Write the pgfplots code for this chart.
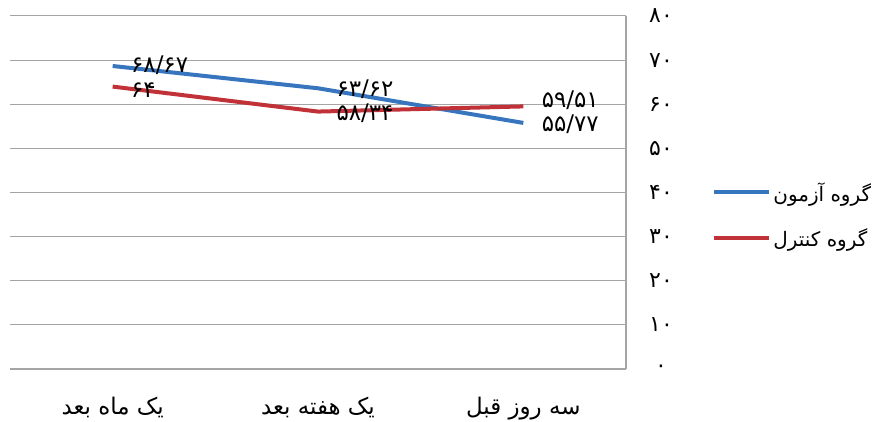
\documentclass[border=0pt]{standalone}
\usepackage{fontspec}
\usepackage{pgfplots}
\pgfplotsset{compat=1.18}
\setmainfont{DejaVu Sans}
\newfontfamily\fa[Script=Arabic]{DejaVu Sans}
\TeXXeTstate=1
\definecolor{sblue}{RGB}{55,118,190}
\definecolor{sred}{RGB}{192,50,55}
\definecolor{gridc}{RGB}{165,165,165}
\begin{document}
\begin{tikzpicture}
\path[use as bounding box] (0,0) rectangle (874bp,422bp);
\begin{axis}[
  at={(10bp,53bp)}, anchor=south west,
  scale only axis, width=616bp, height=353bp,
  xmin=0, xmax=3, ymin=0, ymax=80,
  axis x line*=bottom, axis y line*=right,
  axis line style={gridc, line width=1.2bp},
  ymajorgrids, grid style={gridc, line width=1bp},
  major tick length=0pt,
  xtick={0.5,1.5,2.5},
  xticklabels={{\beginR یک ماه بعد\endR},{\beginR یک هفته بعد\endR},{\beginR سه روز قبل\endR}},
  ytick={0,10,...,80},
  yticklabels={۰,۱۰,۲۰,۳۰,۴۰,۵۰,۶۰,۷۰,۸۰},
  xticklabel style={font=\fa\fontsize{23}{26}\selectfont, anchor=north, yshift=-25bp},
  yticklabel style={font=\fa\fontsize{22}{24}\selectfont, anchor=center, xshift=35bp},
  legend style={at={(1.14,0.436)}, anchor=west, draw=none, fill=none,
    font=\fa\fontsize{20}{22}\selectfont, row sep=22bp, inner sep=0pt},
  legend cell align=left,
  legend image code/.code={\draw[#1] (0bp,0bp) -- (55bp,0bp);},
  point meta=explicit symbolic,
  nodes near coords,
  nodes near coords style={font=\fa\fontsize{23}{25}\selectfont, anchor=west,
    inner sep=0.5bp, text height=12bp, text depth=1bp, xshift=16bp, yshift=-3bp, text=black},
]
\addplot[sblue, line width=4bp, line join=round,
  coordinate style/.condition={x<1}{yshift=1.5bp}] coordinates {
  (0.5,68.67) [۶۸/۶۷]
  (1.5,63.62) [۶۳/۶۲]
  (2.5,55.77) [۵۵/۷۷]
};
\addlegendentry{\beginR گروه آزمون\endR}
\addplot[sred, line width=4bp, line join=round,
  coordinate style/.condition={x>2}{yshift=7bp},
  coordinate style/.condition={x<1}{yshift=-2bp}] coordinates {
  (0.5,64) [۶۴]
  (1.5,58.34) [۵۸/۳۴]
  (2.5,59.51) [۵۹/۵۱]
};
\addlegendentry{\beginR گروه کنترل\endR}
\end{axis}
\end{tikzpicture}
\end{document}
